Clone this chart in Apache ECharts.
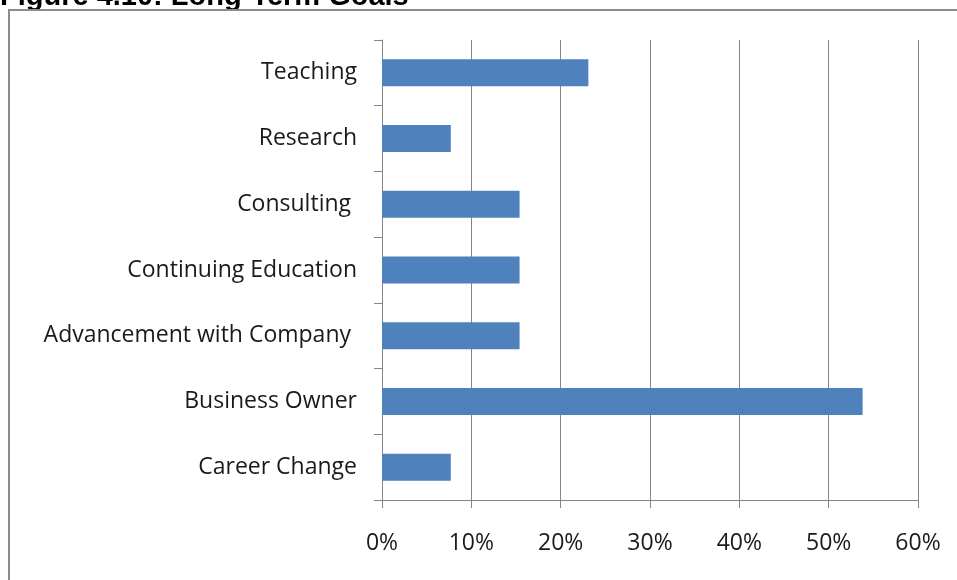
<!DOCTYPE html>
<html>
<head>
<meta charset="utf-8">
<script src="https://cdn.jsdelivr.net/npm/echarts@6/dist/echarts.min.js"></script>
<style>
  html, body { margin: 0; padding: 0; background: #fff; }
  #chart { width: 957px; height: 580px; }
</style>
</head>
<body>
<div id="chart"></div>
<script>
// long-term goals, share of respondents (%)
var goals = ['Teaching', 'Research', 'Consulting ', 'Continuing Education', 'Advancement with Company ', 'Business Owner', 'Career Change'];
var shares = [23.1, 7.7, 15.4, 15.4, 15.4, 53.8, 7.7];
var xTicks = [0, 10, 20, 30, 40, 50, 60];

var chartDom = document.getElementById('chart');
var myChart = echarts.init(chartDom);
var axisGrey = '#868686';
var option = {
  animation: false,
  graphic: [
    {
      type: 'text',
      left: 0,
      top: -18,
      style: {
        text: 'Figure 4.10: Long-Term Goals',
        font: 'bold 29px "Liberation Sans", Arial, sans-serif',
        fill: '#000'
      }
    },
    {
      type: 'rect',
      shape: { x: 9, y: 10, width: 980, height: 600 },
      style: { fill: 'none', stroke: '#8c8c8c', lineWidth: 2 },
      silent: true
    }
  ],
  grid: {
    left: 382,
    right: 39,
    top: 40,
    bottom: 80
  },
  xAxis: {
    type: 'value',
    min: xTicks[0],
    max: xTicks[xTicks.length - 1],
    interval: 10,
    axisLine: { show: true, lineStyle: { color: axisGrey, width: 1 } },
    axisTick: { show: true, length: 8, lineStyle: { color: axisGrey } },
    splitLine: { show: true, lineStyle: { color: axisGrey, width: 1 } },
    axisLabel: {
      margin: 32,
      color: '#1a1a1a',
      fontSize: 23,
      fontFamily: '"Open Sans", sans-serif',
      formatter: function (v) { return v + '%'; }
    }
  },
  yAxis: {
    type: 'category',
    inverse: true,
    data: goals,
    axisLine: { show: true, lineStyle: { color: axisGrey, width: 1 } },
    axisTick: { show: true, length: 8, lineStyle: { color: axisGrey } },
    axisLabel: {
      margin: 25,
      color: '#1a1a1a',
      fontSize: 23,
      fontFamily: '"Open Sans", sans-serif'
    }
  },
  series: [
    {
      type: 'bar',
      data: shares,
      barWidth: 27,
      itemStyle: { color: '#4F81BD' }
    }
  ]
};
myChart.setOption(option);
</script>
</body>
</html>
